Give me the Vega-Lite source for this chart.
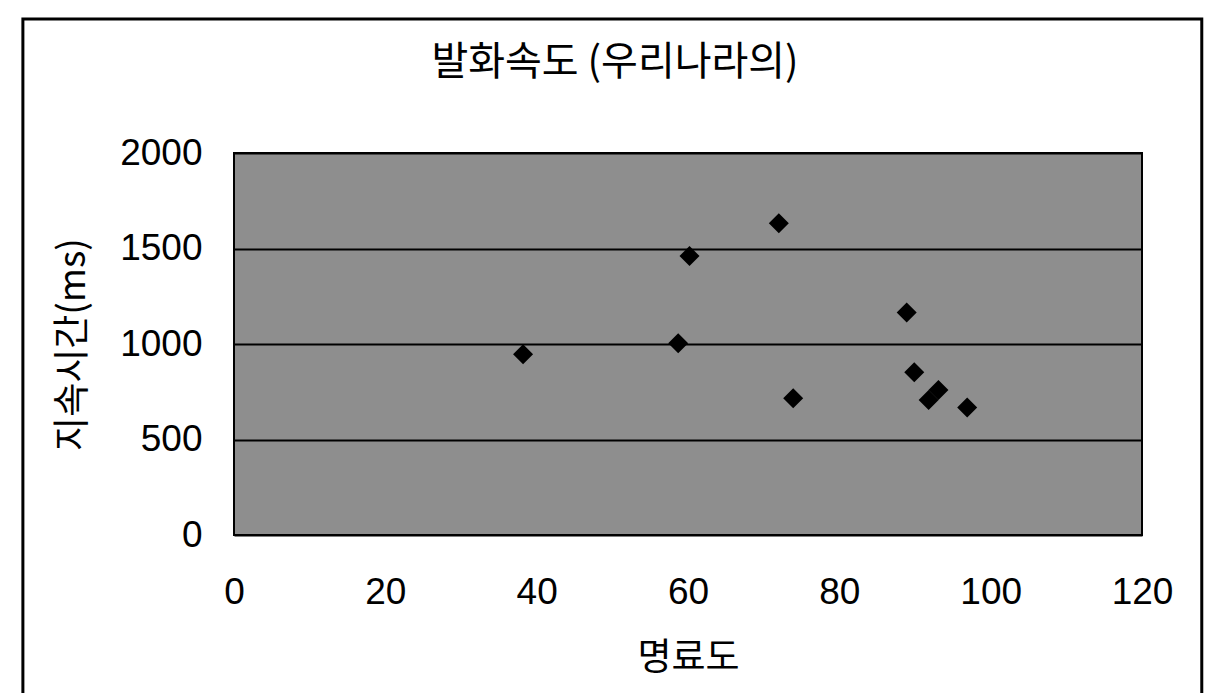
{
  "$schema": "https://vega.github.io/schema/vega-lite/v6.json",
  "width": 908,
  "height": 382,
  "autosize": {"type": "none"},
  "padding": {"left": 234, "top": 153, "right": 66, "bottom": 158},
  "background": "white",
  "title": {
    "text": "발화속도 (우리나라의)",
    "font": "Noto Sans CJK KR",
    "fontSize": 40,
    "fontWeight": "normal",
    "color": "black",
    "anchor": "middle",
    "dx": -73,
    "offset": -66
  },
  "config": {
    "view": {"fill": "#8e8e8e", "stroke": "black", "strokeWidth": 2},
    "axis": {
      "grid": true,
      "gridColor": "black",
      "gridWidth": 2,
      "gridOpacity": 1,
      "ticks": false,
      "domain": false,
      "labelFlush": false,
      "labelFont": "Liberation Sans",
      "labelFontSize": 37,
      "labelColor": "black",
      "titleFont": "Noto Sans CJK KR",
      "titleFontSize": 37,
      "titleFontWeight": "normal",
      "titleColor": "black"
    }
  },
  "layer": [
    {
      "data": {
        "values": [
          {"명료도": 38.2, "지속시간": 946},
          {"명료도": 60.2, "지속시간": 1461},
          {"명료도": 72.0, "지속시간": 1632},
          {"명료도": 58.7, "지속시간": 1004},
          {"명료도": 73.9, "지속시간": 716},
          {"명료도": 88.9, "지속시간": 1165},
          {"명료도": 89.9, "지속시간": 852},
          {"명료도": 91.8, "지속시간": 707},
          {"명료도": 93.1, "지속시간": 759},
          {"명료도": 96.9, "지속시간": 668}
        ]
      },
      "mark": {"type": "point", "shape": "diamond", "filled": true, "color": "black", "opacity": 1, "size": 400},
      "encoding": {
        "x": {
          "field": "명료도",
          "type": "quantitative",
          "title": "명료도",
          "scale": {"domain": [0, 120], "nice": false, "zero": false},
          "axis": {"values": [0, 20, 40, 60, 80, 100, 120], "format": "d", "grid": false, "labelPadding": 39, "titlePadding": 30}
        },
        "y": {
          "field": "지속시간",
          "type": "quantitative",
          "title": "지속시간(ms)",
          "scale": {"domain": [0, 2000], "nice": false, "zero": false},
          "axis": {"values": [0, 500, 1000, 1500, 2000], "format": "d", "labelPadding": 32, "titlePadding": 27}
        }
      }
    },
    {
      "data": {"values": [{}]},
      "mark": {"type": "rect", "fill": null, "fillOpacity": 0, "stroke": "black", "strokeWidth": 3, "clip": false},
      "encoding": {
        "x": {"datum": -27.9, "type": "quantitative"},
        "x2": {"datum": 127.9},
        "y": {"datum": 2702, "type": "quantitative"},
        "y2": {"datum": -968}
      }
    }
  ]
}
